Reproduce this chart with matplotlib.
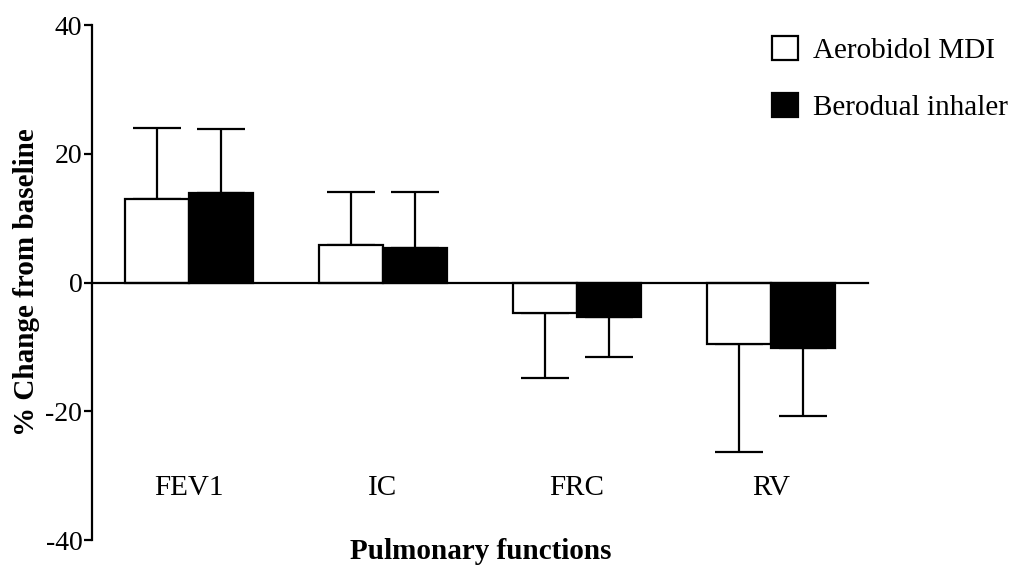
import numpy as np
import matplotlib
matplotlib.use("Agg")
import matplotlib.pyplot as plt
from matplotlib.patches import Patch

# ── Data ──────────────────────────────────────────────────
categories = ["FEV1", "IC", "FRC", "RV"]
series_names = ["Aerobidol MDI", "Berodual inhaler"]
aerobidol_mean = [13.0, 5.8, -4.7, -9.6]
aerobidol_sd = [11.0, 8.3, 10.2, 16.8]
berodual_mean = [13.9, 5.4, -5.4, -10.2]
berodual_sd = [9.9, 8.6, 6.2, 10.5]
y_ticks = [-40, -20, 0, 20, 40]

plt.rcParams["font.family"] = ["Liberation Serif", "DejaVu Serif"]
plt.rcParams["axes.unicode_minus"] = False

fig = plt.figure(figsize=(10.09, 5.67), dpi=100)
ax = fig.add_axes([0.0912, 0.0476, 0.769, 0.908])

x = np.arange(len(categories))
w = 0.33


def one_sided(means, sds):
    means = np.asarray(means)
    sds = np.asarray(sds)
    lower = np.where(means < 0, sds, 0)
    upper = np.where(means >= 0, sds, 0)
    return [lower, upper]


for off, means, sds, fc, name in [
    (-w / 2, aerobidol_mean, aerobidol_sd, "white", series_names[0]),
    (w / 2, berodual_mean, berodual_sd, "black", series_names[1]),
]:
    ax.errorbar(x + off, means, yerr=one_sided(means, sds), fmt="none",
                ecolor="black", elinewidth=1.6, capsize=17, capthick=1.6,
                zorder=1)
    ax.bar(x + off, means, width=w, color=fc, edgecolor="black",
           linewidth=1.6, zorder=2, label=name)

ax.set_xlim(-0.5, 3.5)
ax.set_ylim(-40, 40)
ax.set_yticks(y_ticks)
ax.tick_params(axis="y", labelsize=20, length=6, width=1.6, pad=1,
               direction="out")
ax.set_xticks([])

for s in ["top", "right"]:
    ax.spines[s].set_visible(False)
ax.spines["left"].set_linewidth(1.6)
ax.spines["bottom"].set_position(("data", 0))
ax.spines["bottom"].set_linewidth(1.6)
ax.spines["bottom"].set_zorder(3)

for xi, cat in zip(x, categories):
    ax.text(xi, -31.9, cat, ha="center", va="center", fontsize=21)

ax.set_ylabel("% Change from baseline", fontsize=21, fontweight="bold",
              labelpad=4)
fig.text(0.476, 0.0141, "Pulmonary functions", ha="center", va="baseline",
         fontsize=21, fontweight="bold")

handles = [Patch(facecolor="white", edgecolor="black", linewidth=1.6),
           Patch(facecolor="black", edgecolor="black", linewidth=1.6)]
fig.legend(handles, series_names, loc="upper left",
           bbox_to_anchor=(0.765, 0.937), frameon=False, fontsize=21,
           handlelength=0.9, handleheight=0.9, handletextpad=0.5,
           labelspacing=1.0, borderaxespad=0, borderpad=0)

fig.savefig("out.png", dpi=100)
